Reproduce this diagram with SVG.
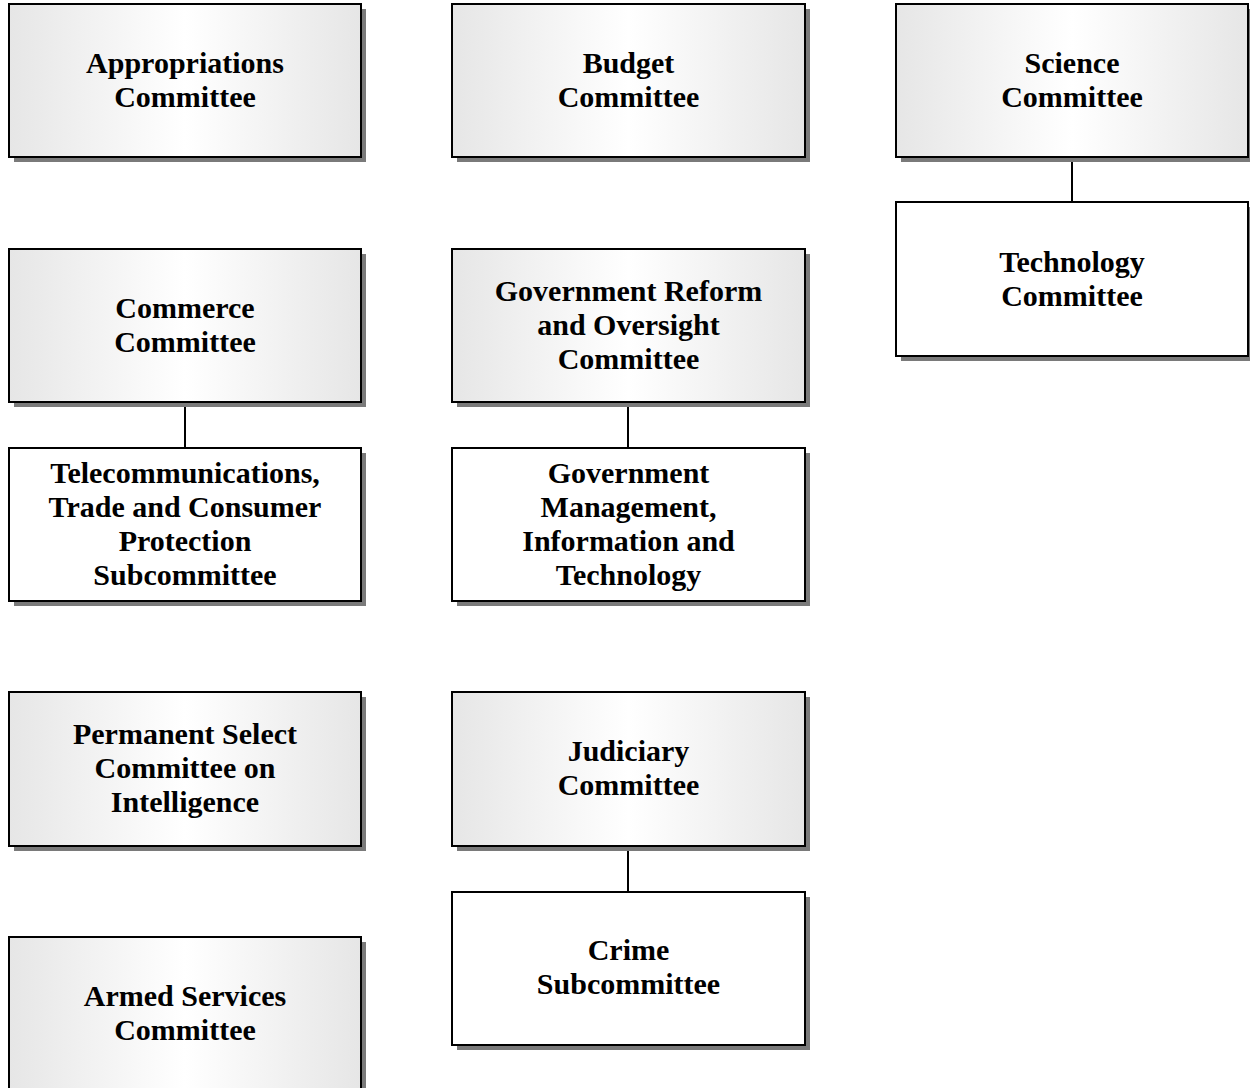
<svg xmlns="http://www.w3.org/2000/svg" width="1250" height="1088" viewBox="0 0 1250 1088">
<defs>
<linearGradient id="g" x1="0" y1="0" x2="1" y2="0">
<stop offset="0" stop-color="#e6e6e6"/>
<stop offset="0.5" stop-color="#ffffff"/>
<stop offset="1" stop-color="#e6e6e6"/>
</linearGradient>
<style>
.sh{fill:#7a7a7a;}
.bx{stroke:#000;stroke-width:2;}
.gr{fill:url(#g);}
.wh{fill:#fff;}
.t{font-family:"Liberation Serif","Times New Roman",serif;font-weight:bold;font-size:30px;text-anchor:middle;fill:#000;}
.c{stroke:#000;stroke-width:2;fill:none;}
</style>
</defs>
<rect width="1250" height="1088" fill="#fff"/>
<g id="connectors">
<line class="c" x1="1072" y1="157" x2="1072" y2="202"/>
<line class="c" x1="185" y1="402" x2="185" y2="448"/>
<line class="c" x1="628" y1="402" x2="628" y2="448"/>
<line class="c" x1="628" y1="846" x2="628" y2="892"/>
</g>
<g id="appropriations">
<rect class="sh" x="14" y="9" width="352" height="153"/>
<rect class="bx gr" x="9" y="4" width="352" height="153"/>
<text class="t" x="185" y="72.5">Appropriations</text>
<text class="t" x="185" y="106.5">Committee</text>
</g>
<g id="budget">
<rect class="sh" x="457" y="9" width="353" height="153"/>
<rect class="bx gr" x="452" y="4" width="353" height="153"/>
<text class="t" x="628.5" y="72.5">Budget</text>
<text class="t" x="628.5" y="106.5">Committee</text>
</g>
<g id="science">
<rect class="sh" x="901" y="9" width="352" height="153"/>
<rect class="bx gr" x="896" y="4" width="352" height="153"/>
<text class="t" x="1072" y="72.5">Science</text>
<text class="t" x="1072" y="106.5">Committee</text>
</g>
<g id="technology">
<rect class="sh" x="901" y="207" width="352" height="154"/>
<rect class="bx wh" x="896" y="202" width="352" height="154"/>
<text class="t" x="1072" y="271.5">Technology</text>
<text class="t" x="1072" y="305.5">Committee</text>
</g>
<g id="commerce">
<rect class="sh" x="14" y="254" width="352" height="153"/>
<rect class="bx gr" x="9" y="249" width="352" height="153"/>
<text class="t" x="185" y="317.5">Commerce</text>
<text class="t" x="185" y="351.5">Committee</text>
</g>
<g id="gov-reform">
<rect class="sh" x="457" y="254" width="353" height="153"/>
<rect class="bx gr" x="452" y="249" width="353" height="153"/>
<text class="t" x="628.5" y="300.5">Government Reform</text>
<text class="t" x="628.5" y="334.5">and Oversight</text>
<text class="t" x="628.5" y="368.5">Committee</text>
</g>
<g id="telecom">
<rect class="sh" x="14" y="453" width="352" height="153"/>
<rect class="bx wh" x="9" y="448" width="352" height="153"/>
<text class="t" x="185" y="482.5">Telecommunications,</text>
<text class="t" x="185" y="516.5">Trade and Consumer</text>
<text class="t" x="185" y="550.5">Protection</text>
<text class="t" x="185" y="584.5">Subcommittee</text>
</g>
<g id="gov-mgmt">
<rect class="sh" x="457" y="453" width="353" height="153"/>
<rect class="bx wh" x="452" y="448" width="353" height="153"/>
<text class="t" x="628.5" y="482.5">Government</text>
<text class="t" x="628.5" y="516.5">Management,</text>
<text class="t" x="628.5" y="550.5">Information and</text>
<text class="t" x="628.5" y="584.5">Technology</text>
</g>
<g id="intelligence">
<rect class="sh" x="14" y="697" width="352" height="154"/>
<rect class="bx gr" x="9" y="692" width="352" height="154"/>
<text class="t" x="185" y="744">Permanent Select</text>
<text class="t" x="185" y="778">Committee on</text>
<text class="t" x="185" y="812">Intelligence</text>
</g>
<g id="judiciary">
<rect class="sh" x="457" y="697" width="353" height="154"/>
<rect class="bx gr" x="452" y="692" width="353" height="154"/>
<text class="t" x="628.5" y="761">Judiciary</text>
<text class="t" x="628.5" y="795">Committee</text>
</g>
<g id="crime">
<rect class="sh" x="457" y="897" width="353" height="153"/>
<rect class="bx wh" x="452" y="892" width="353" height="153"/>
<text class="t" x="628.5" y="959.5">Crime</text>
<text class="t" x="628.5" y="993.5">Subcommittee</text>
</g>
<g id="armed-services">
<rect class="sh" x="14" y="942" width="352" height="153"/>
<rect class="bx gr" x="9" y="937" width="352" height="153"/>
<text class="t" x="185" y="1005.5">Armed Services</text>
<text class="t" x="185" y="1039.5">Committee</text>
</g>
</svg>
